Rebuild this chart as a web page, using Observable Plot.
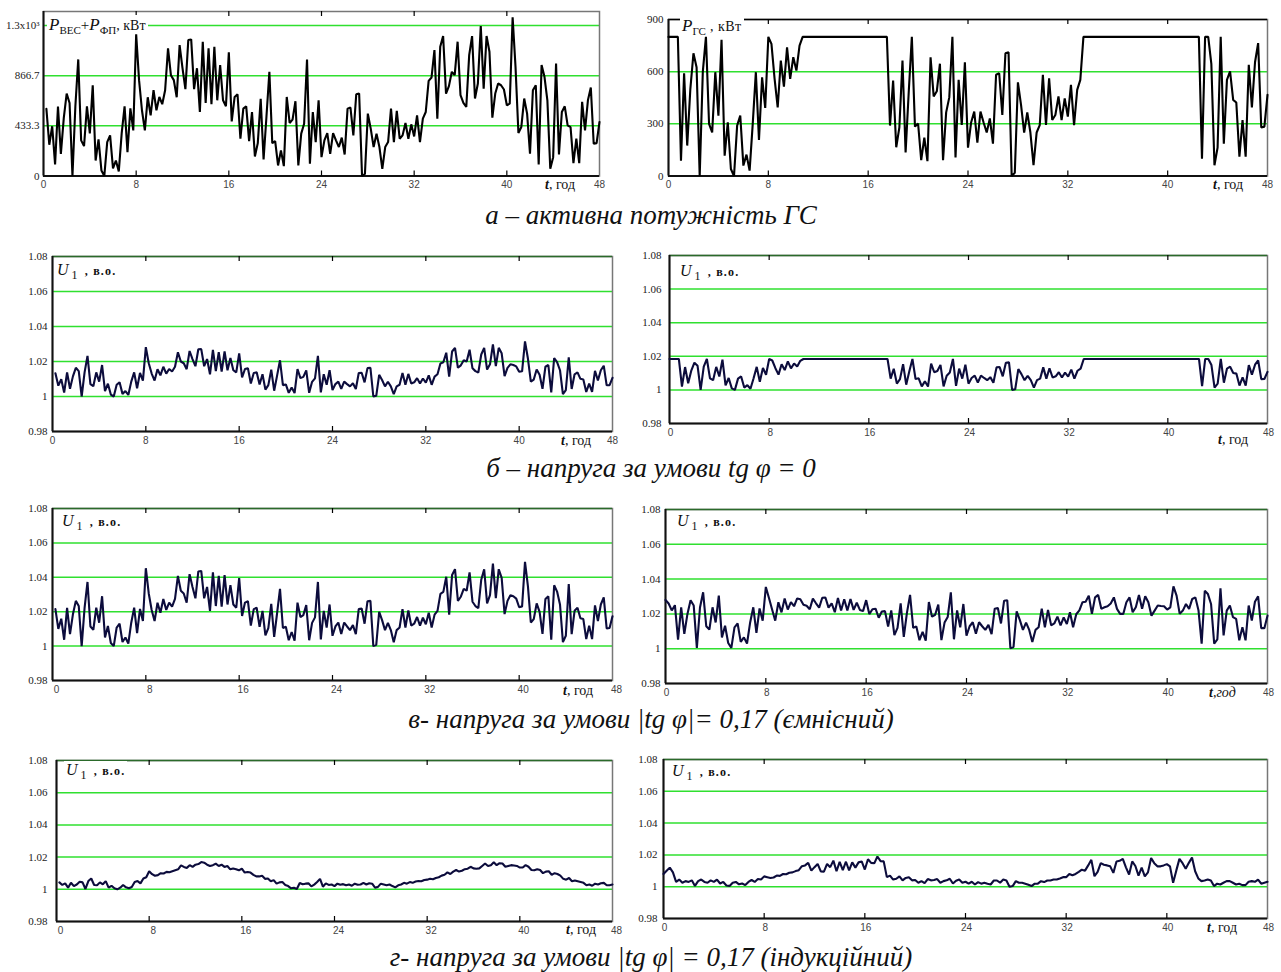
<!DOCTYPE html>
<html><head><meta charset="utf-8">
<script src="https://cdn.jsdelivr.net/npm/d3@7"></script>
<script src="https://cdn.jsdelivr.net/npm/@observablehq/plot@0.6"></script>
<style>
body{margin:0;background:#fff;}
#root{position:relative;width:1281px;height:972px;overflow:hidden;font-family:"Liberation Serif",serif;}
.cap{position:absolute;left:0;width:1302px;text-align:center;font-style:italic;font-size:27px;line-height:28px;font-family:"Liberation Serif",serif;color:#111;}
.lab{position:absolute;background:#fff;font-family:"Liberation Serif",serif;white-space:nowrap;line-height:1;color:#111;padding:1px 2px;}
.lab .P{font-style:italic;font-size:17px;}
.lab .s{font-size:11px;position:relative;top:4px;}
.lab .U{font-style:italic;font-size:16px;}
.lab .s1{font-size:12px;position:relative;top:4px;margin-left:3px;}
.lab .bo{font-size:12px;font-weight:bold;letter-spacing:1.2px;margin-left:3px;}
.tl{position:absolute;font-family:"Liberation Serif",serif;font-size:14px;white-space:nowrap;line-height:1;color:#111;}
</style></head><body><div id="root"></div><script>
const STEP = 0.25;
const X_TICKS = [0,8,16,24,32,40,48];
// a-left: P_ВЕС+P_ФП, kW (t = 0.25 .. 48)
const P_LEFT = [580,270,430,100,600,190,500,712,631,0,
600,1007,308,258,602,368,784,134,316,48,
0,293,351,65,134,40,368,602,206,585,
394,1224,828,568,394,680,524,741,568,683,
620,741,1102,871,828,680,1131,931,750,1174,
1180,750,931,553,1160,631,1102,620,1116,654,
958,654,602,1068,472,683,706,322,582,602,
302,553,169,284,666,143,516,900,284,302,
91,221,85,683,458,487,646,91,366,452,
1007,106,553,293,654,163,308,371,192,371,
308,250,331,186,582,591,351,706,712,0,
19,539,409,250,365,250,62,250,293,582,
293,562,322,351,458,322,446,342,524,293,
495,553,822,851,1088,495,1117,1209,712,776,
900,871,1160,698,631,596,1044,1209,669,799,
1296,755,1209,1073,504,712,799,784,747,611,
625,1371,943,371,423,669,539,192,741,784,
100,958,857,654,62,163,972,186,553,602,
438,423,111,322,111,640,394,654,764,279,
284,467];
// a-right: P_ГС, kW (t = 0 .. 48)
const P_RIGHT = [800,800,800,800,88,591,175,500,706,626,
0,600,800,300,251,597,347,783,117,309,
40,0,290,347,60,123,31,300,597,207,
568,391,800,760,560,394,664,514,740,558,
683,606,750,800,800,800,800,800,800,800,
800,800,800,800,800,800,800,800,800,800,
800,800,800,800,800,800,800,800,800,800,
800,290,549,165,280,664,136,482,800,284,
302,91,221,85,683,458,487,646,91,366,
452,800,106,553,293,654,163,308,371,192,
371,308,250,331,186,582,591,351,706,712,
0,19,539,409,250,365,250,62,250,293,
582,293,562,322,351,458,322,446,342,524,
293,495,553,800,800,800,800,800,800,800,
800,800,800,800,800,800,800,800,800,800,
800,800,800,800,800,800,800,800,800,800,
800,800,800,800,800,800,800,800,800,800,
800,100,800,800,645,62,163,800,186,553,
602,438,423,111,322,111,640,394,654,764,
279,284,467];
// б-left: U1 (tg φ = 0), t = 0.25 .. 48
const U_B_LEFT = [1.0133,1.0062,1.0099,1.0023,1.0138,1.0044,1.0115,1.0164,1.0145,1.0000,
1.0138,1.0232,1.0071,1.0059,1.0138,1.0085,1.0180,1.0031,1.0073,1.0011,
1.0000,1.0067,1.0081,1.0015,1.0031,1.0009,1.0085,1.0138,1.0047,1.0135,
1.0091,1.0282,1.0190,1.0131,1.0091,1.0156,1.0121,1.0170,1.0131,1.0157,
1.0143,1.0170,1.0253,1.0200,1.0190,1.0156,1.0260,1.0214,1.0173,1.0270,
1.0271,1.0173,1.0214,1.0127,1.0267,1.0145,1.0253,1.0143,1.0257,1.0150,
1.0220,1.0150,1.0138,1.0246,1.0109,1.0157,1.0162,1.0074,1.0134,1.0138,
1.0069,1.0127,1.0039,1.0065,1.0153,1.0033,1.0119,1.0207,1.0065,1.0069,
1.0021,1.0051,1.0020,1.0157,1.0105,1.0112,1.0149,1.0021,1.0084,1.0104,
1.0232,1.0024,1.0127,1.0067,1.0150,1.0037,1.0071,1.0085,1.0044,1.0085,
1.0071,1.0058,1.0076,1.0043,1.0134,1.0136,1.0081,1.0162,1.0164,1.0000,
1.0004,1.0124,1.0094,1.0058,1.0084,1.0058,1.0014,1.0058,1.0067,1.0134,
1.0067,1.0129,1.0074,1.0081,1.0105,1.0074,1.0103,1.0079,1.0121,1.0067,
1.0114,1.0127,1.0189,1.0196,1.0250,1.0114,1.0257,1.0278,1.0164,1.0178,
1.0207,1.0200,1.0267,1.0161,1.0145,1.0137,1.0240,1.0278,1.0154,1.0184,
1.0298,1.0174,1.0278,1.0247,1.0116,1.0164,1.0184,1.0180,1.0172,1.0141,
1.0144,1.0315,1.0217,1.0085,1.0097,1.0154,1.0124,1.0044,1.0170,1.0180,
1.0023,1.0220,1.0197,1.0150,1.0014,1.0037,1.0224,1.0043,1.0127,1.0138,
1.0101,1.0097,1.0026,1.0074,1.0026,1.0147,1.0091,1.0150,1.0176,1.0064,
1.0065,1.0107];
// б-right: U1 (tg φ = 0), t = 0 .. 48
const U_B_RIGHT = [1.0184,1.0184,1.0184,1.0184,1.0020,1.0136,1.0040,1.0115,1.0162,1.0144,
1.0000,1.0138,1.0184,1.0069,1.0058,1.0137,1.0080,1.0180,1.0027,1.0071,
1.0009,1.0000,1.0067,1.0080,1.0014,1.0028,1.0007,1.0069,1.0137,1.0048,
1.0131,1.0090,1.0184,1.0175,1.0129,1.0091,1.0153,1.0118,1.0170,1.0128,
1.0157,1.0139,1.0173,1.0184,1.0184,1.0184,1.0184,1.0184,1.0184,1.0184,
1.0184,1.0184,1.0184,1.0184,1.0184,1.0184,1.0184,1.0184,1.0184,1.0184,
1.0184,1.0184,1.0184,1.0184,1.0184,1.0184,1.0184,1.0184,1.0184,1.0184,
1.0184,1.0067,1.0126,1.0038,1.0064,1.0153,1.0031,1.0111,1.0184,1.0065,
1.0069,1.0021,1.0051,1.0020,1.0157,1.0105,1.0112,1.0149,1.0021,1.0084,
1.0104,1.0184,1.0024,1.0127,1.0067,1.0150,1.0037,1.0071,1.0085,1.0044,
1.0085,1.0071,1.0058,1.0076,1.0043,1.0134,1.0136,1.0081,1.0162,1.0164,
1.0000,1.0004,1.0124,1.0094,1.0058,1.0084,1.0058,1.0014,1.0058,1.0067,
1.0134,1.0067,1.0129,1.0074,1.0081,1.0105,1.0074,1.0103,1.0079,1.0121,
1.0067,1.0114,1.0127,1.0184,1.0184,1.0184,1.0184,1.0184,1.0184,1.0184,
1.0184,1.0184,1.0184,1.0184,1.0184,1.0184,1.0184,1.0184,1.0184,1.0184,
1.0184,1.0184,1.0184,1.0184,1.0184,1.0184,1.0184,1.0184,1.0184,1.0184,
1.0184,1.0184,1.0184,1.0184,1.0184,1.0184,1.0184,1.0184,1.0184,1.0184,
1.0184,1.0023,1.0184,1.0184,1.0148,1.0014,1.0037,1.0184,1.0043,1.0127,
1.0138,1.0101,1.0097,1.0026,1.0074,1.0026,1.0147,1.0091,1.0150,1.0176,
1.0064,1.0065,1.0107];
// в-left: U1 (|tg φ| = 0.17 capacitive), t = 0.25 .. 48
const U_V_LEFT = [1.0215,1.0100,1.0159,1.0037,1.0222,1.0070,1.0185,1.0263,1.0233,1.0000,
1.0222,1.0373,1.0114,1.0095,1.0223,1.0136,1.0290,1.0050,1.0117,1.0018,
1.0000,1.0108,1.0130,1.0024,1.0050,1.0015,1.0136,1.0223,1.0076,1.0216,
1.0146,1.0453,1.0306,1.0210,1.0146,1.0252,1.0194,1.0274,1.0210,1.0253,
1.0229,1.0274,1.0408,1.0322,1.0306,1.0252,1.0418,1.0344,1.0278,1.0434,
1.0437,1.0278,1.0344,1.0205,1.0429,1.0233,1.0408,1.0229,1.0413,1.0242,
1.0354,1.0242,1.0223,1.0395,1.0175,1.0253,1.0261,1.0119,1.0215,1.0223,
1.0112,1.0205,1.0063,1.0105,1.0246,1.0053,1.0191,1.0333,1.0105,1.0112,
1.0034,1.0082,1.0031,1.0253,1.0169,1.0180,1.0239,1.0034,1.0135,1.0167,
1.0373,1.0039,1.0205,1.0108,1.0242,1.0060,1.0114,1.0137,1.0071,1.0137,
1.0114,1.0093,1.0122,1.0069,1.0215,1.0219,1.0130,1.0261,1.0263,1.0000,
1.0007,1.0199,1.0151,1.0093,1.0135,1.0093,1.0023,1.0093,1.0108,1.0215,
1.0108,1.0208,1.0119,1.0130,1.0169,1.0119,1.0165,1.0127,1.0194,1.0108,
1.0183,1.0205,1.0304,1.0315,1.0403,1.0183,1.0413,1.0447,1.0263,1.0287,
1.0333,1.0322,1.0429,1.0258,1.0233,1.0221,1.0386,1.0447,1.0248,1.0296,
1.0480,1.0279,1.0447,1.0397,1.0186,1.0263,1.0296,1.0290,1.0276,1.0226,
1.0231,1.0490,1.0349,1.0137,1.0157,1.0248,1.0199,1.0071,1.0274,1.0290,
1.0037,1.0354,1.0317,1.0242,1.0023,1.0060,1.0360,1.0069,1.0205,1.0223,
1.0162,1.0157,1.0041,1.0119,1.0041,1.0237,1.0146,1.0242,1.0283,1.0103,
1.0105,1.0173];
// в-right: U1 (|tg φ| = 0.17 capacitive), t = 0 .. 48
const U_V_RIGHT = [1.0280,1.0260,1.0220,1.0250,1.0052,1.0237,1.0085,1.0200,1.0278,1.0248,
1.0005,1.0237,1.0324,1.0129,1.0110,1.0238,1.0151,1.0305,1.0065,1.0132,
1.0033,1.0005,1.0123,1.0145,1.0039,1.0065,1.0030,1.0151,1.0238,1.0091,
1.0231,1.0161,1.0355,1.0291,1.0225,1.0161,1.0267,1.0209,1.0289,1.0225,
1.0268,1.0244,1.0289,1.0284,1.0253,1.0247,1.0227,1.0288,1.0261,1.0236,
1.0293,1.0294,1.0236,1.0261,1.0210,1.0292,1.0220,1.0284,1.0219,1.0286,
1.0223,1.0264,1.0223,1.0216,1.0279,1.0199,1.0227,1.0230,1.0178,1.0214,
1.0216,1.0127,1.0220,1.0078,1.0120,1.0261,1.0068,1.0206,1.0309,1.0120,
1.0127,1.0049,1.0097,1.0046,1.0268,1.0184,1.0195,1.0254,1.0049,1.0150,
1.0182,1.0324,1.0054,1.0220,1.0123,1.0257,1.0075,1.0129,1.0152,1.0086,
1.0152,1.0129,1.0108,1.0137,1.0084,1.0230,1.0234,1.0145,1.0276,1.0278,
1.0003,1.0010,1.0214,1.0166,1.0108,1.0150,1.0108,1.0038,1.0108,1.0123,
1.0230,1.0123,1.0223,1.0134,1.0145,1.0184,1.0134,1.0180,1.0142,1.0209,
1.0123,1.0198,1.0220,1.0267,1.0270,1.0305,1.0200,1.0295,1.0309,1.0229,
1.0238,1.0244,1.0260,1.0295,1.0229,1.0200,1.0200,1.0267,1.0295,1.0210,
1.0238,1.0309,1.0229,1.0301,1.0267,1.0190,1.0219,1.0248,1.0245,1.0244,
1.0225,1.0238,1.0358,1.0305,1.0200,1.0219,1.0257,1.0229,1.0286,1.0295,
1.0219,1.0029,1.0333,1.0314,1.0257,1.0029,1.0053,1.0347,1.0076,1.0219,
1.0248,1.0181,1.0171,1.0048,1.0124,1.0048,1.0248,1.0162,1.0270,1.0301,
1.0118,1.0118,1.0190];
// г-left: U1 (|tg φ| = 0.17 inductive), t = 0.25 .. 48
const U_G_LEFT = [1.0043,1.0027,1.0037,1.0010,1.0041,1.0020,1.0030,1.0047,1.0043,1.0002,
1.0051,1.0067,1.0027,1.0025,1.0043,1.0031,1.0051,1.0010,1.0022,1.0006,
1.0000,1.0010,1.0027,1.0012,1.0006,1.0014,1.0045,1.0051,1.0037,1.0067,
1.0075,1.0112,1.0094,1.0084,1.0088,1.0100,1.0098,1.0108,1.0106,1.0112,
1.0118,1.0124,1.0149,1.0139,1.0133,1.0150,1.0139,1.0153,1.0157,1.0169,
1.0165,1.0153,1.0145,1.0150,1.0159,1.0145,1.0153,1.0139,1.0145,1.0124,
1.0129,1.0125,1.0118,1.0129,1.0104,1.0108,1.0104,1.0090,1.0080,1.0080,
1.0084,1.0065,1.0067,1.0050,1.0057,1.0035,1.0043,1.0045,1.0027,1.0020,
1.0006,1.0010,1.0002,1.0039,1.0031,1.0035,1.0037,1.0018,1.0029,1.0045,
1.0065,1.0016,1.0037,1.0027,1.0030,1.0020,1.0035,1.0028,1.0032,1.0025,
1.0030,1.0022,1.0035,1.0028,1.0030,1.0040,1.0030,1.0038,1.0035,1.0010,
1.0015,1.0035,1.0030,1.0025,1.0030,1.0020,1.0012,1.0025,1.0030,1.0040,
1.0035,1.0045,1.0040,1.0048,1.0052,1.0050,1.0058,1.0060,1.0065,1.0062,
1.0070,1.0075,1.0085,1.0090,1.0105,1.0095,1.0110,1.0120,1.0110,1.0115,
1.0125,1.0128,1.0140,1.0130,1.0128,1.0130,1.0145,1.0160,1.0145,1.0150,
1.0168,1.0150,1.0162,1.0160,1.0140,1.0145,1.0150,1.0148,1.0145,1.0135,
1.0135,1.0150,1.0140,1.0120,1.0118,1.0125,1.0120,1.0100,1.0110,1.0112,
1.0090,1.0100,1.0095,1.0085,1.0065,1.0060,1.0070,1.0050,1.0055,1.0050,
1.0045,1.0040,1.0025,1.0030,1.0022,1.0035,1.0030,1.0038,1.0040,1.0025,
1.0025,1.0030];
// г-right: U1 (|tg φ| = 0.17 inductive), t = 0 .. 48
const U_G_RIGHT = [1.0080,1.0100,1.0120,1.0090,1.0030,1.0045,1.0025,1.0035,1.0030,1.0040,
1.0005,1.0035,1.0045,1.0030,1.0025,1.0040,1.0030,1.0045,1.0020,1.0030,
1.0008,1.0005,1.0025,1.0030,1.0015,1.0020,1.0010,1.0030,1.0042,1.0030,
1.0048,1.0045,1.0065,1.0060,1.0055,1.0058,1.0070,1.0068,1.0080,1.0078,
1.0088,1.0090,1.0098,1.0104,1.0129,1.0134,1.0150,1.0101,1.0123,1.0143,
1.0096,1.0095,1.0143,1.0123,1.0164,1.0097,1.0156,1.0104,1.0157,1.0102,
1.0153,1.0120,1.0153,1.0159,1.0108,1.0173,1.0150,1.0147,1.0190,1.0161,
1.0159,1.0060,1.0070,1.0045,1.0050,1.0065,1.0040,1.0055,1.0060,1.0040,
1.0042,1.0025,1.0035,1.0022,1.0048,1.0040,1.0042,1.0048,1.0025,1.0035,
1.0040,1.0050,1.0020,1.0038,1.0045,1.0025,1.0031,1.0019,1.0031,1.0014,
1.0029,1.0019,1.0025,1.0019,1.0014,1.0039,1.0039,1.0025,1.0045,1.0039,
1.0000,1.0004,1.0035,1.0025,1.0025,1.0019,1.0012,1.0004,1.0019,1.0019,
1.0035,1.0029,1.0039,1.0039,1.0045,1.0045,1.0052,1.0060,1.0060,1.0080,
1.0072,1.0080,1.0093,1.0107,1.0101,1.0134,1.0169,1.0066,1.0093,1.0148,
1.0138,1.0134,1.0128,1.0087,1.0159,1.0163,1.0175,1.0122,1.0076,1.0159,
1.0130,1.0070,1.0120,1.0065,1.0090,1.0180,1.0148,1.0128,1.0128,1.0134,
1.0142,1.0128,1.0025,1.0101,1.0175,1.0148,1.0113,1.0150,1.0184,1.0097,
1.0052,1.0035,1.0039,1.0045,1.0039,1.0004,1.0019,1.0014,1.0025,1.0035,
1.0035,1.0025,1.0014,1.0019,1.0010,1.0010,1.0031,1.0035,1.0031,1.0045,
1.0019,1.0025,1.0031];

const GREEN = "#2fe02f";
const NAVY = "#0c0c3c";
const uFmt = d => d === 1 ? "1" : d.toFixed(2);
const U_TICKS = [0.98,1,1.02,1.04,1.06,1.08];
const U_GRID = [1,1.02,1.04,1.06];

const panels = [
  {sx:0,sy:0,W:640,H:200,fx0:43,fx1:599,fy0:11,fy1:175.5,ydom:[0,1421],yticks:[0,433.3,866.7,1300],grid:[433.3,866.7,1300],
   fmt:d=>d===1300?"1.3x10³":String(d),vals:P_LEFT,start:1,stroke:"#000",ygap:4,xdx:0},
  {sx:640,sy:0,W:641,H:200,fx0:668,fx1:1267,fy0:19,fy1:175.5,ydom:[0,900],yticks:[0,300,600,900],grid:[300,600],
   fmt:d=>String(d),vals:P_RIGHT,start:0,stroke:"#000",ygap:5,xdx:0,topBlack:true},
  {sx:0,sy:240,W:640,H:215,fx0:52,fx1:612,fy0:256,fy1:431,ydom:[0.98,1.08],yticks:U_TICKS,grid:U_GRID,
   fmt:uFmt,vals:U_B_LEFT,start:1,stroke:NAVY,ygap:5,xdx:0,topGreen:true},
  {sx:640,sy:240,W:641,H:215,fx0:669,fx1:1267,fy0:255,fy1:423,ydom:[0.98,1.08],yticks:U_TICKS,grid:U_GRID,
   fmt:uFmt,vals:U_B_RIGHT,start:0,stroke:NAVY,ygap:8,xdx:1,topGreen:true},
  {sx:0,sy:495,W:640,H:210,fx0:52,fx1:612,fy0:508,fy1:680,ydom:[0.98,1.08],yticks:U_TICKS,grid:U_GRID,
   fmt:uFmt,vals:U_V_LEFT,start:1,stroke:NAVY,ygap:5,xdx:4,topGreen:true},
  {sx:640,sy:495,W:641,H:210,fx0:665,fx1:1267,fy0:509,fy1:683,ydom:[0.98,1.08],yticks:U_TICKS,grid:U_GRID,
   fmt:uFmt,vals:U_V_RIGHT,start:0,stroke:NAVY,ygap:5,xdx:1,topGreen:true},
  {sx:0,sy:745,W:640,H:200,fx0:56,fx1:612,fy0:760,fy1:921,ydom:[0.98,1.08],yticks:U_TICKS,grid:U_GRID,
   fmt:uFmt,vals:U_G_LEFT,start:1,stroke:NAVY,ygap:9,xdx:4,topGreen:true},
  {sx:640,sy:745,W:641,H:200,fx0:663,fx1:1267,fy0:759,fy1:918,ydom:[0.98,1.08],yticks:U_TICKS,grid:U_GRID,
   fmt:uFmt,vals:U_G_RIGHT,start:0,stroke:NAVY,ygap:6,xdx:1,topGreen:true}
];

const root = document.getElementById("root");
for (const p of panels) {
  const data = p.vals.map((v, i) => ({t: (i + p.start) * STEP, v}));
  const span = p.ydom[1] - p.ydom[0];
  const tl = span * 5 / (p.fy1 - p.fy0);
  const inner = X_TICKS.slice(1, -1);
  const marks = [
    Plot.ruleY(p.grid, {stroke: GREEN, strokeWidth: 1.5}),
    Plot.frame({stroke: "#777", strokeWidth: 1.5}),
    p.topGreen ? Plot.ruleY([p.ydom[1]], {stroke: "#2a6a2a", strokeWidth: 1.6}) : null,
    p.topBlack ? Plot.ruleY([p.ydom[1]], {stroke: "#000", strokeWidth: 1.5}) : null,
    Plot.ruleX([0], {stroke: "#111", strokeWidth: 2}),
    Plot.ruleY([p.ydom[0]], {stroke: "#111", strokeWidth: 2}),
    Plot.ruleX(inner, {y1: p.ydom[1], y2: p.ydom[1] - tl, stroke: "#000", strokeWidth: 1.2}),
    Plot.ruleX(inner, {y1: p.ydom[0], y2: p.ydom[0] + tl, stroke: "#000", strokeWidth: 1.2}),
    Plot.line(data, {x: "t", y: "v", stroke: p.stroke, strokeWidth: 2.1, strokeLinejoin: "miter"}),
    Plot.axisX({ticks: X_TICKS, label: null, tickSize: 0, tickPadding: 5, fontSize: 10, fill: "#444", fontFamily: "Liberation Sans", dx: p.xdx, tickFormat: d => String(d)}),
    Plot.axisY({ticks: p.yticks, label: null, tickSize: 0, tickPadding: p.ygap, fontSize: 11, fill: "#222", fontFamily: "Liberation Serif", tickFormat: p.fmt})
  ].filter(Boolean);
  const svg = Plot.plot({
    width: p.W, height: p.H,
    marginLeft: p.fx0 - p.sx, marginRight: p.sx + p.W - p.fx1,
    marginTop: p.fy0 - p.sy, marginBottom: p.sy + p.H - p.fy1,
    x: {domain: [0, 48]},
    y: {domain: p.ydom},
    style: {background: "transparent", overflow: "visible"},
    marks
  });
  svg.style.position = "absolute";
  svg.style.left = p.sx + "px";
  svg.style.top = p.sy + "px";
  root.appendChild(svg);
}

const U_HTML = '<span class="U">U</span><span class="s1">1</span><span class="bo"> , в.о.</span>';
const LABELS = [
  {x:47,y:15,html:'<span class="P">P</span><span class="s">ВЕС</span><span style="font-size:15px">+</span><span class="P">P</span><span class="s">ФП</span><span style="font-size:14px">, кВт</span>'},
  {x:680,y:16,html:'<span class="P">P</span><span class="s">ГС</span><span style="font-size:14px;letter-spacing:0.5px"> , кВт</span>'},
  {x:55,y:261,html:U_HTML},
  {x:678,y:262,html:U_HTML},
  {x:60,y:512,html:U_HTML},
  {x:675,y:512,html:U_HTML},
  {x:64,y:761,html:U_HTML},
  {x:670,y:762,html:U_HTML}
];
for (const l of LABELS) {
  const d = document.createElement("div");
  d.className = "lab"; d.style.left = l.x + "px"; d.style.top = l.y + "px"; d.innerHTML = l.html;
  root.appendChild(d);
}
const TLAB = [
  {x:545,y:178,html:'<b><i>t</i></b>, год'},
  {x:1213,y:178,html:'<b><i>t</i></b>, год'},
  {x:561,y:434,html:'<b><i>t</i></b>, год'},
  {x:1218,y:433,html:'<b><i>t</i></b>, год'},
  {x:563,y:684,html:'<b><i>t</i></b>, год'},
  {x:1209,y:686,html:'<i><b>t</b>,год</i>'},
  {x:566,y:923,html:'<b><i>t</i></b>, год'},
  {x:1207,y:921,html:'<b><i>t</i></b>, год'}
];
for (const l of TLAB) {
  const d = document.createElement("div");
  d.className = "tl"; d.style.left = l.x + "px"; d.style.top = l.y + "px"; d.innerHTML = l.html;
  root.appendChild(d);
}
const CAPTIONS = [
  {y:201,text:"а – активна потужність ГС"},
  {y:454,text:"б – напруга за умови tg φ = 0"},
  {y:705,text:"в- напруга за умови |tg φ|= 0,17 (ємнісний)"},
  {y:943,text:"г- напруга за умови |tg φ| = 0,17 (індукційний)"}
];
for (const c of CAPTIONS) {
  const d = document.createElement("div");
  d.className = "cap"; d.style.top = c.y + "px"; d.textContent = c.text;
  root.appendChild(d);
}
</script></body></html>
